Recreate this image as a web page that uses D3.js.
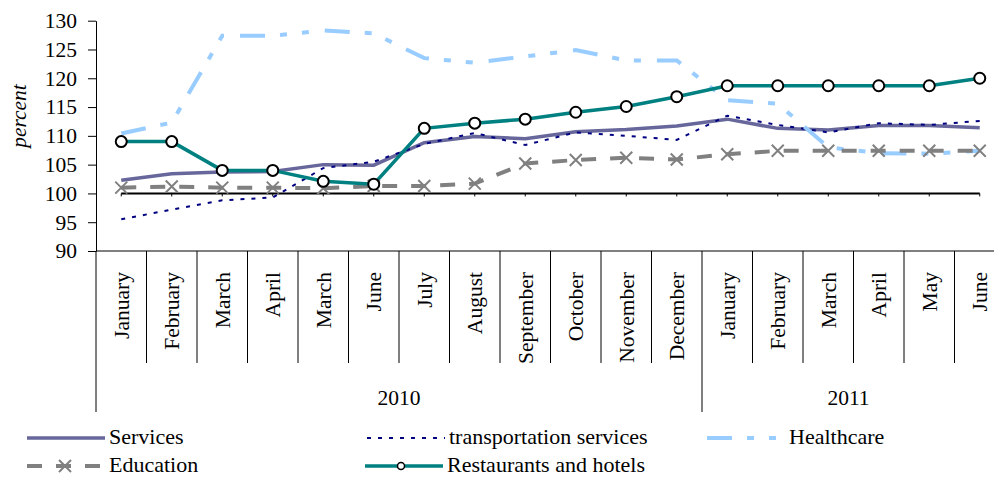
<!DOCTYPE html>
<html>
<head>
<meta charset="utf-8">
<script src="https://cdn.jsdelivr.net/npm/d3@7"></script>
<style>
  body { margin: 0; background: #fff; }
  svg { display: block; font-family: "Liberation Serif", "Times New Roman", serif; }
</style>
</head>
<body>
<svg width="994" height="477"></svg>
<script>
const months = ["January", "February", "March", "April", "March", "June", "July", "August",
  "September", "October", "November", "December",
  "January", "February", "March", "April", "May", "June"];
const years = ["2010", "2011"];
const yearStarts = [0, 12];
const yTicks = [90, 95, 100, 105, 110, 115, 120, 125, 130];

const services = [102.3, 103.4, 103.7, 103.8, 105.0, 104.9, 108.8, 109.9, 109.5, 110.7, 111.1, 111.7,
  112.9, 111.3, 111.0, 111.8, 111.8, 111.4];
const transport = [95.5, 97.2, 98.8, 99.3, 104.4, 105.5, 108.6, 110.5, 108.4, 110.6, 110.0, 109.3,
  113.5, 111.9, 110.6, 112.2, 111.9, 112.6];
const healthcare = [110.4, 112.3, 127.4, 127.4, 128.3, 127.8, 123.5, 122.7, 123.8, 124.9, 123.1, 123.1,
  116.2, 115.6, 108.0, 107.0, 106.9, 107.4];
const education = [101.0, 101.2, 101.0, 101.0, 100.9, 101.3, 101.3, 101.7, 105.2, 105.8, 106.2, 105.9,
  106.8, 107.4, 107.4, 107.4, 107.4, 107.4];
const restaurants = [109.0, 109.0, 104.0, 104.0, 102.1, 101.6, 111.3, 112.2, 112.9, 114.1, 115.1, 116.8,
  118.7, 118.7, 118.7, 118.7, 118.7, 120.0];
const baseline = 100;

const svg = d3.select("svg");
const plotLeft = 96, plotTop = 20.7, plotBottom = 251;
const step = 50.5;

const x = d3.scaleBand()
  .domain(d3.range(months.length))
  .range([plotLeft, plotLeft + step * months.length]);
const cx = i => x(i) + x.bandwidth() / 2;

const y = d3.scaleLinear().domain([90, 130]).range([plotBottom, plotTop]);

// y axis
const yAxis = svg.append("g")
  .attr("transform", `translate(${plotLeft},0)`)
  .call(d3.axisLeft(y).tickValues(yTicks).tickSize(8).tickSizeOuter(0).tickPadding(11));
yAxis.selectAll("text")
  .attr("font-family", "Liberation Serif")
  .attr("font-size", 21.5)
  .attr("fill", "#000");
yAxis.selectAll("line, path").attr("stroke", "#000");

svg.append("text")
  .attr("transform", "translate(26,116) rotate(-90)")
  .attr("text-anchor", "middle")
  .attr("font-size", 21.5)
  .attr("font-style", "italic")
  .text("percent");

// category axis
svg.append("line")
  .attr("x1", plotLeft).attr("x2", x.range()[1])
  .attr("y1", plotBottom).attr("y2", plotBottom)
  .attr("stroke", "#000");

const bounds = d3.range(months.length + 1);
svg.selectAll(".sep")
  .data(bounds)
  .join("line")
  .attr("x1", i => plotLeft + i * x.bandwidth())
  .attr("x2", i => plotLeft + i * x.bandwidth())
  .attr("y1", plotBottom)
  .attr("y2", i => (yearStarts.includes(i) || i === months.length) ? 412 : 363)
  .attr("stroke", "#000");

svg.selectAll(".month")
  .data(months)
  .join("text")
  .attr("transform", (d, i) => `translate(${cx(i)},272) rotate(-90)`)
  .attr("dy", "0.35em")
  .attr("text-anchor", "end")
  .attr("font-size", 21.5)
  .text(d => d);

years.forEach((yr, k) => {
  const s = yearStarts[k];
  const e = k + 1 < yearStarts.length ? yearStarts[k + 1] : months.length;
  svg.append("text")
    .attr("x", (x(s) + x(e - 1) + x.bandwidth()) / 2 - (k === 1 ? 5 : 0))
    .attr("y", 405)
    .attr("text-anchor", "middle")
    .attr("font-size", 21.5)
    .text(yr);
});

// 100 reference line
svg.append("line")
  .attr("x1", cx(0)).attr("x2", cx(months.length - 1))
  .attr("y1", y(baseline)).attr("y2", y(baseline))
  .attr("stroke", "#000").attr("stroke-width", 2);
svg.selectAll(".bt")
  .data(months)
  .join("line")
  .attr("x1", (d, i) => cx(i)).attr("x2", (d, i) => cx(i))
  .attr("y1", y(baseline)).attr("y2", y(baseline) + 3)
  .attr("stroke", "#000");

const line = d3.line().x((d, i) => cx(i)).y(d => y(d));

const series = [
  { name: "Services", values: services, color: "#67679b", width: 3.5, dash: null },
  { name: "transportation services", values: transport, color: "#000080", width: 2, dash: "4,7" },
  { name: "Healthcare", values: healthcare, color: "#99ccff", width: 4, dash: "25,15,7,15,7,16" },
  { name: "Education", values: education, color: "#808080", width: 4, dash: "15,14" },
  { name: "Restaurants and hotels", values: restaurants, color: "#008080", width: 3.5, dash: null }
];

series.forEach(s => {
  svg.append("path")
    .datum(s.values)
    .attr("d", line)
    .attr("fill", "none")
    .attr("stroke", s.color)
    .attr("stroke-width", s.width)
    .attr("stroke-dasharray", s.dash);
});

// Education X markers
const xm = 6;
svg.selectAll(".xmark")
  .data(education)
  .join("path")
  .attr("d", (d, i) => `M${cx(i) - xm},${y(d) - xm}L${cx(i) + xm},${y(d) + xm}M${cx(i) - xm},${y(d) + xm}L${cx(i) + xm},${y(d) - xm}`)
  .attr("stroke", "#808080")
  .attr("stroke-width", 2);

// Restaurants circle markers
svg.selectAll(".cmark")
  .data(restaurants)
  .join("circle")
  .attr("cx", (d, i) => cx(i))
  .attr("cy", d => y(d))
  .attr("r", 5.5)
  .attr("fill", "#fff")
  .attr("stroke", "#000")
  .attr("stroke-width", 2);

// legend
const legendPos = [
  { x: 27, y: 438 }, { x: 367, y: 438 }, { x: 707, y: 438 },
  { x: 27, y: 466 }, { x: 365, y: 466 }
];
series.forEach((s, k) => {
  const p = legendPos[k];
  const g = svg.append("g");
  g.append("line")
    .attr("x1", p.x).attr("x2", p.x + 78)
    .attr("y1", p.y).attr("y2", p.y)
    .attr("stroke", s.color)
    .attr("stroke-width", s.width)
    .attr("stroke-dasharray", s.dash);
  if (s.name === "Education") {
    const mx = p.x + 38, my = p.y;
    g.append("path")
      .attr("d", `M${mx - 6},${my - 6}L${mx + 6},${my + 6}M${mx - 6},${my + 6}L${mx + 6},${my - 6}`)
      .attr("stroke", "#808080").attr("stroke-width", 2);
  }
  if (s.name === "Restaurants and hotels") {
    g.append("circle")
      .attr("cx", p.x + 36).attr("cy", p.y).attr("r", 3.5)
      .attr("fill", "#fff").attr("stroke", "#000").attr("stroke-width", 1.5);
  }
  g.append("text")
    .attr("x", p.x + 82)
    .attr("y", p.y + 6)
    .attr("font-size", 22)
    .text(s.name);
});
</script>
</body>
</html>
